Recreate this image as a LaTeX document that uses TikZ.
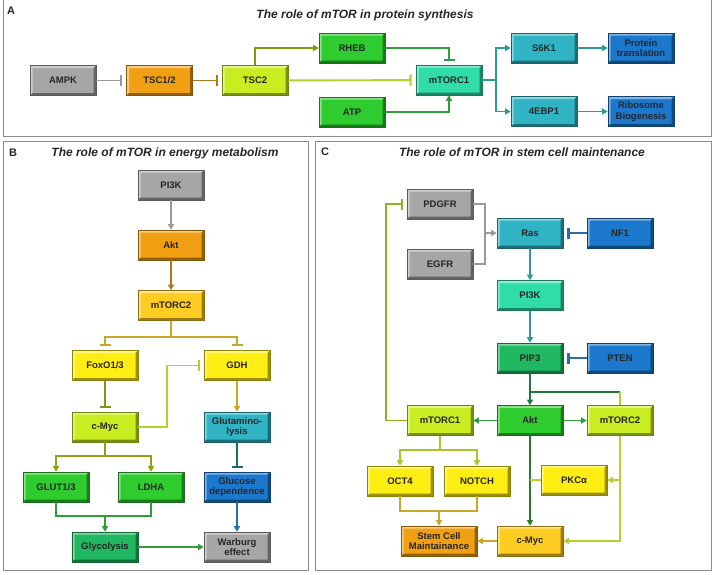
\documentclass[tikz,border=0pt]{standalone}
\usepackage{fontspec}
\setmainfont{Liberation Sans}
\usetikzlibrary{arrows.meta}
\definecolor{fgray}{HTML}{A6A6A6}
\definecolor{forange}{HTML}{F0A012}
\definecolor{fylgreen}{HTML}{C8EE22}
\definecolor{fgreen}{HTML}{2ECC2E}
\definecolor{faqua}{HTML}{30DCA8}
\definecolor{fteal}{HTML}{30B4C4}
\definecolor{fblue}{HTML}{1C78CC}
\definecolor{fgold}{HTML}{FFCC22}
\definecolor{fyellow}{HTML}{FFEE14}
\definecolor{fmgreen}{HTML}{20B860}
\definecolor{egray}{HTML}{9A9A9A}
\definecolor{ebrown}{HTML}{B07818}
\definecolor{eylgreen}{HTML}{B4D030}
\definecolor{eolive}{HTML}{7A9A10}
\definecolor{egreen}{HTML}{2E9E3A}
\definecolor{eteal}{HTML}{2A9A98}
\definecolor{eblue}{HTML}{2A6EA8}
\definecolor{egold}{HTML}{C8A828}
\definecolor{edkgreen}{HTML}{207A40}
\begin{document}
\begin{tikzpicture}[x=1pt,y=-1pt,line width=1.9pt,
  box/.style={rectangle,minimum width=66pt,minimum height=30pt,inner sep=1pt,align=center,
    fill=#1,draw=#1!55!black,line width=0.6pt,text=black!85,
    font=\bfseries\fontsize{9.5}{10.5}\selectfont,
    path picture={
      \fill[#1!55!white] (path picture bounding box.south west) -- (path picture bounding box.north west)
        -- (path picture bounding box.north east) -- ([shift={(-2.5pt,-2.5pt)}]path picture bounding box.north east)
        -- ([shift={(2.5pt,-2.5pt)}]path picture bounding box.north west) -- ([shift={(2.5pt,2.5pt)}]path picture bounding box.south west) -- cycle;
      \fill[#1!60!black] (path picture bounding box.south west) -- (path picture bounding box.south east)
        -- (path picture bounding box.north east) -- ([shift={(-2.5pt,-2.5pt)}]path picture bounding box.north east)
        -- ([shift={(-2.5pt,2.5pt)}]path picture bounding box.south east) -- ([shift={(2.5pt,2.5pt)}]path picture bounding box.south west) -- cycle;
    }},
  act/.style={-{Triangle[length=5.5pt,width=6pt]}},
  inh/.style={-{Bar[width=11pt,line width=2.2pt]},shorten >=4pt},
  ttl/.style={font=\bfseries\itshape\fontsize{12}{14}\selectfont,text=black!85},
  lbl/.style={font=\bfseries\fontsize{11}{13}\selectfont,text=black!85},
  panel/.style={draw=black!45,line width=0.9pt}]
\useasboundingbox (0,0) rectangle (713,574);
% frames
\draw [panel] (3,0) -- (3,136) -- (711,136) -- (711,0);
\draw [panel] (3,141) rectangle (308,570);
\draw [panel] (315,141) rectangle (711,570);
\node at (11,11) [lbl] (la) {A};
\node at (13,153) [lbl] (lb) {B};
\node at (325,152) [lbl] (lc) {C};
\node at (365,15) [ttl] (ttla) {The role of mTOR in protein synthesis};
\node at (165,153) [ttl] (ttlb) {The role of mTOR in energy metabolism};
\node at (522,152) [ttl] (ttlc) {The role of mTOR in stem cell maintenance};
% A: protein synthesis
\node at (63,80.5) [box=fgray] (ampk) {AMPK};
\node at (159.5,80.5) [box=forange] (tsc12) {TSC1/2};
\node at (255,80.5) [box=fylgreen] (tsc2) {TSC2};
\node at (352,48) [box=fgreen] (rheb) {RHEB};
\node at (352,112) [box=fgreen] (atp) {ATP};
\node at (449,80) [box=faqua] (mtorc1) {mTORC1};
\node at (544,48) [box=fteal] (s6k1) {S6K1};
\node at (544,111.5) [box=fteal] (ebp1) {4EBP1};
\node at (641,48) [box=fblue] (prot) {Protein\\translation};
\node at (641,111.5) [box=fblue] (ribo) {Ribosome\\Biogenesis};
\coordinate (abr) at (496,80);
\draw [inh,egray] (ampk) -- (tsc12);
\draw [inh,ebrown] (tsc12) -- (tsc2);
\draw [inh,eylgreen] (tsc2) -- (mtorc1);
\draw [act,eolive] (tsc2.north) |- (rheb.west);
\draw [inh,egreen] (rheb.east) -| (mtorc1.north);
\draw [act,egreen] (atp.east) -| (mtorc1.south);
\draw [act,eteal] (mtorc1.east) -- (abr) |- (s6k1.west);
\draw [act,eteal] (abr) |- (ebp1.west);
\draw [act,eteal] (s6k1) -- (prot);
\draw [act,eteal] (ebp1) -- (ribo);
% B: energy metabolism
\node at (171,185) [box=fgray] (pikb) {PI3K};
\node at (171,245) [box=forange] (aktb) {Akt};
\node at (171,305.5) [box=fgold] (mtorc2b) {mTORC2};
\node at (105,365.5) [box=fyellow] (foxo) {FoxO1/3};
\node at (237,365.5) [box=fyellow] (gdh) {GDH};
\node at (105,427) [box=fylgreen] (cmycb) {c-Myc};
\node at (237,427) [box=fteal] (glnl) {Glutamino-\\lysis};
\node at (56,487) [box=fgreen] (glut) {GLUT1/3};
\node at (151,487) [box=fgreen] (ldha) {LDHA};
\node at (237,487) [box=fblue] (glcd) {Glucose\\dependence};
\node at (105,547) [box=fmgreen] (glyco) {Glycolysis};
\node at (237,547) [box=fgray] (warb) {Warburg\\effect};
\coordinate (bj) at (171,337);
\coordinate (bk) at (167,396);
\coordinate (bm) at (105,456);
\coordinate (bn) at (105,516);
\draw [act,egray] (pikb) -- (aktb);
\draw [act,ebrown] (aktb) -- (mtorc2b);
\draw [egold] (mtorc2b.south) -- (bj);
\draw [inh,egold] (bj) -| (foxo.north);
\draw [inh,egold] (bj) -| (gdh.north);
\draw [inh,eolive!80!ebrown] (foxo) -- (cmycb);
\draw [inh,eylgreen] (cmycb.east) -| (bk) |- (gdh.west);
\draw [act,egold] (gdh) -- (glnl);
\draw [inh,eteal!70!black] (glnl) -- (glcd);
\draw [eolive!70!egold] (cmycb.south) -- (bm);
\draw [act,eolive!70!egold] (bm) -| (glut.north);
\draw [act,eolive!70!egold] (bm) -| (ldha.north);
\draw [egreen] (glut.south) |- (bn) -| (ldha.south);
\draw [act,egreen] (bn) -- (glyco.north);
\draw [act,eblue] (glcd) -- (warb);
\draw [act,egreen] (glyco) -- (warb);
% C: stem cell maintenance
\node at (440,204) [box=fgray] (pdgfr) {PDGFR};
\node at (440,264) [box=fgray] (egfr) {EGFR};
\node at (530,233) [box=fteal] (ras) {Ras};
\node at (620,233) [box=fblue] (nf1) {NF1};
\node at (530,295.5) [box=faqua] (pikc) {PI3K};
\node at (530,358) [box=fmgreen] (pip3) {PIP3};
\node at (620,358) [box=fblue] (pten) {PTEN};
\node at (530,420.5) [box=fgreen] (aktc) {Akt};
\node at (440,420.5) [box=fylgreen] (mtorc1c) {mTORC1};
\node at (620,420.5) [box=fylgreen] (mtorc2c) {mTORC2};
\node at (400,481) [box=fyellow] (oct4) {OCT4};
\node at (477,481) [box=fyellow] (notch) {NOTCH};
\node at (574,480) [box=fyellow] (pkc) {PKCα};
\node at (439,541) [box=forange,minimum width=76pt] (stem) {Stem Cell\\Maintainance};
\node at (530,541) [box=fgold] (cmycc) {c-Myc};
\coordinate (cj) at (485,233);
\coordinate (fb) at (386,300);
\coordinate (pj) at (530,392);
\coordinate (pk) at (620,392);
\coordinate (cm) at (440,450);
\coordinate (cn) at (439,511);
\draw [egray] (egfr.east) -| (cj);
\draw [act,egray] (pdgfr.east) -| (cj) -- (ras.west);
\draw [inh,eblue] (nf1) -- (ras);
\draw [act,eteal] (ras) -- (pikc);
\draw [act,eteal] (pikc) -- (pip3);
\draw [inh,eblue] (pten) -- (pip3);
\draw [act,edkgreen] (pip3) -- (aktc);
\draw [edkgreen] (pj) -- (pk);
\draw [eylgreen] (pk) -- (mtorc2c.north);
\draw [act,egreen] (aktc) -- (mtorc1c);
\draw [act,egreen] (aktc) -- (mtorc2c);
\draw [inh,eolive!60!eylgreen] (mtorc1c.west) -| (fb) |- (pdgfr.west);
\draw [eylgreen!80!eolive] (mtorc1c.south) -- (cm);
\draw [act,eylgreen!80!eolive] (cm) -| (oct4.north);
\draw [act,eylgreen!80!eolive] (cm) -| (notch.north);
\draw [egold] (oct4.south) |- (cn) -| (notch.south);
\draw [act,egold] (cn) -- (stem.north);
\draw [act,egreen!80!black] (aktc) -- (cmycc);
\draw [eylgreen] (pkc.west) -- (aktc |- pkc.west);
\draw [act,eylgreen] (mtorc2c.south) |- (cmycc.east);
\draw [act,eylgreen] (mtorc2c.south |- pkc.east) -- (pkc.east);
\draw [act,egold] (cmycc) -- (stem);
\end{tikzpicture}
\end{document}
